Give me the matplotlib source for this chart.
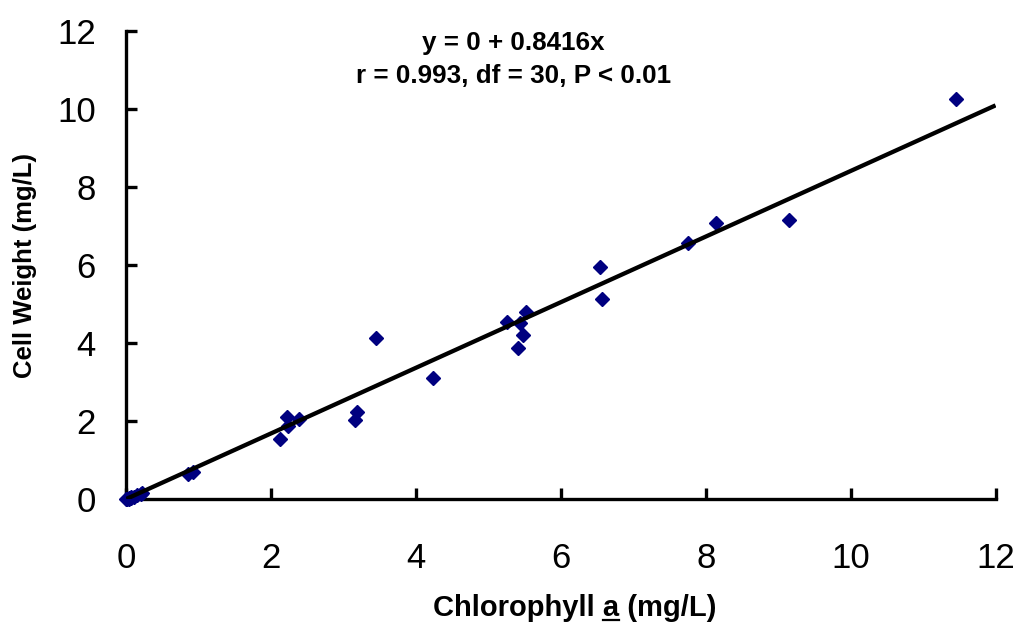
import matplotlib
matplotlib.use('Agg')
import numpy as np
import matplotlib.pyplot as plt
from matplotlib.lines import Line2D

plt.rcParams['font.family'] = ['Liberation Sans', 'DejaVu Sans']

chl_a = [0.00, 0.01, 0.03, 0.04, 0.06, 0.07, 0.10, 0.15, 0.20, 0.22,
         0.85, 0.92,
         2.12, 2.22, 2.23, 2.38,
         3.15, 3.19, 3.44, 4.23,
         5.25, 5.43, 5.52, 5.47, 5.41,
         6.54, 6.57,
         7.76, 8.14, 9.15, 11.46]
cell_wt = [0.00, 0.00, 0.01, 0.02, 0.04, 0.03, 0.06, 0.10, 0.13, 0.15,
           0.64, 0.69,
           1.54, 2.10, 1.87, 2.05,
           2.03, 2.23, 4.13, 3.10,
           4.54, 4.51, 4.79, 4.20, 3.87,
           5.95, 5.13,
           6.56, 7.08, 7.15, 10.26]

slope = 0.8416
intercept = 0
fit_x = [0, 12]

fig = plt.figure(figsize=(10.19, 6.26), dpi=100)
ax = fig.add_axes([0.124, 0.203, 0.853, 0.747])

ax.plot(chl_a, cell_wt, linestyle='none', marker='D', ms=7.4,
        color='#000080', zorder=3, clip_on=False)
ax.plot(fit_x, [intercept + slope * v for v in fit_x], color='black',
        lw=3.1, zorder=4, solid_capstyle='butt')

ax.set_xlim(0, 12)
ax.set_ylim(0, 12)
ax.set_xticks(range(0, 13, 2))
ax.set_yticks(range(0, 13, 2))
for side in ['top', 'right']:
    ax.spines[side].set_visible(False)
for side in ['left', 'bottom']:
    ax.spines[side].set_linewidth(2.4)
ax.tick_params(direction='in', length=8, width=2.4, labelsize=25)
ax.tick_params(axis='x', pad=31)
ax.tick_params(axis='y', pad=22)

xlab = ax.set_xlabel('Chlorophyll a (mg/L)', fontsize=21, fontweight='bold')
xlab.set_va('center')
ax.xaxis.set_label_coords(0.516, -0.233)
ylab = ax.set_ylabel('Cell Weight (mg/L)', fontsize=18.5, fontweight='bold')
ylab.set_va('center')
ax.yaxis.set_label_coords(-0.117, 0.5)

ax.text(0.445, 0.961, 'y = 0 + 0.8416x', transform=ax.transAxes,
        ha='center', va='baseline', fontsize=18.7, fontweight='bold')
ax.text(0.445, 0.889, 'r = 0.993, df = 30, P < 0.01', transform=ax.transAxes,
        ha='center', va='baseline', fontsize=18.7, fontweight='bold')

# underline the "a" in the x label
fig.canvas.draw()
rend = fig.canvas.get_renderer()
bb = xlab.get_window_extent(rend)
fp = xlab.get_fontproperties()
w0, _, _ = rend.get_text_width_height_descent('Chlorophyll ', fp, ismath=False)
w1, _, _ = rend.get_text_width_height_descent('Chlorophyll a', fp, ismath=False)
_, _, d = rend.get_text_width_height_descent('Chlorophyll a (mg/L)', fp, ismath=False)
W, H = fig.bbox.width, fig.bbox.height
uy = bb.y0 + d - 4
fig.add_artist(Line2D([(bb.x0 + w0) / W, (bb.x0 + w1) / W], [uy / H, uy / H],
                      transform=fig.transFigure, color='black', lw=1.6))

fig.savefig('out.png', dpi=100)
